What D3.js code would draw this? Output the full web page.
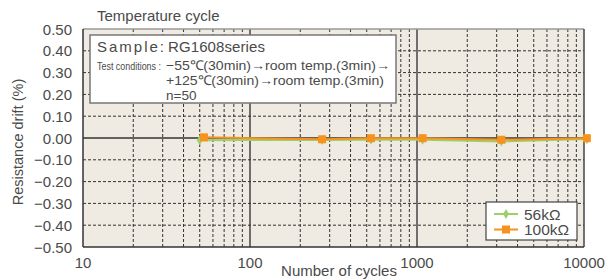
<!DOCTYPE html>
<html>
<head>
<meta charset="utf-8">
<script src="https://cdn.jsdelivr.net/npm/d3@7"></script>
<style>
  body { margin: 0; background: #fff; }
  text { font-family: "Liberation Sans", Arial, sans-serif; fill: #4a4a4a; }
</style>
</head>
<body>
<div id="chart"></div>
<script>
// data
var cycles56 = [50, 270, 530, 1080, 3200, 10400];
var drift56 = [-0.010, -0.009, -0.008, -0.008, -0.016, -0.005];
var cycles100 = [53, 270, 530, 1080, 3200, 10400];
var drift100 = [0.003, -0.006, -0.001, -0.001, -0.008, -0.001];
var yTicks = [0.5, 0.4, 0.3, 0.2, 0.1, 0, -0.1, -0.2, -0.3, -0.4, -0.5];
var xTicks = [10, 100, 1000, 10000];
var seriesNames = ["56kΩ", "100kΩ"];
var seriesColors = ["#9dd06a", "#f7921e"];

var margin = { left: 83, right: 24, top: 29, bottom: 33 };
var width = 608 - margin.left - margin.right,
    height = 280 - margin.top - margin.bottom;

var svg = d3.select("#chart")
  .append("svg")
    .attr("width", 608)
    .attr("height", 280);

var g = svg.append("g")
    .attr("transform", "translate(" + margin.left + "," + margin.top + ")");

var x = d3.scaleLog().domain([10, 10000]).range([0, width]);
var y = d3.scaleLinear().domain([-0.5, 0.5]).range([height, 0]);

// plot background
g.append("rect")
    .attr("width", width)
    .attr("height", height)
    .attr("fill", "#efebe2");

// vertical grid (minor dashed, decades solid)
var minors = [];
[10, 100, 1000].forEach(function(d) {
  for (var k = 2; k <= 9; k++) minors.push(d * k);
});
g.selectAll(".vgrid")
  .data(minors)
  .enter().append("line")
    .attr("x1", function(d) { return x(d); })
    .attr("x2", function(d) { return x(d); })
    .attr("y1", 0).attr("y2", height)
    .attr("stroke", "#333")
    .attr("stroke-width", 1)
    .attr("stroke-dasharray", "3,2");

g.selectAll(".vmajor")
  .data([100, 1000])
  .enter().append("line")
    .attr("x1", function(d) { return x(d); })
    .attr("x2", function(d) { return x(d); })
    .attr("y1", 0).attr("y2", height)
    .attr("stroke", "#444")
    .attr("stroke-width", 1.5);

// horizontal grid
g.selectAll(".hgrid")
  .data(yTicks.filter(function(d) { return d !== 0 && Math.abs(d) !== 0.5; }))
  .enter().append("line")
    .attr("x1", 0).attr("x2", width)
    .attr("y1", function(d) { return y(d); })
    .attr("y2", function(d) { return y(d); })
    .attr("stroke", "#333")
    .attr("stroke-width", 1)
    .attr("stroke-dasharray", "3,2");

g.append("line")
    .attr("x1", 0).attr("x2", width)
    .attr("y1", y(0)).attr("y2", y(0))
    .attr("stroke", "#333")
    .attr("stroke-width", 1.5);

// frame
g.append("line").attr("x1", 0).attr("x2", width).attr("y1", 0).attr("y2", 0)
    .attr("stroke", "#999").attr("stroke-width", 1.5);
g.append("line").attr("x1", width).attr("x2", width).attr("y1", 0).attr("y2", height)
    .attr("stroke", "#444").attr("stroke-width", 1.5);
g.append("line").attr("x1", 0).attr("x2", 0).attr("y1", 0).attr("y2", height)
    .attr("stroke", "#333").attr("stroke-width", 1.5);
g.append("line").attr("x1", 0).attr("x2", width).attr("y1", height).attr("y2", height)
    .attr("stroke", "#333").attr("stroke-width", 1.5);

// y tick labels
g.selectAll(".ylab")
  .data(yTicks)
  .enter().append("text")
    .attr("x", -11)
    .attr("y", function(d) { return y(d) + 5.5; })
    .attr("text-anchor", "end")
    .attr("font-size", "15px")
    .text(function(d) { return (d < 0 ? "\u2212" : "") + Math.abs(d).toFixed(2); });

// x tick labels
g.selectAll(".xlab")
  .data(xTicks)
  .enter().append("text")
    .attr("x", function(d) { return x(d); })
    .attr("y", height + 21)
    .attr("text-anchor", "middle")
    .attr("font-size", "15px")
    .text(function(d) { return d; });

// axis titles
svg.append("text")
    .attr("x", 339).attr("y", 276)
    .attr("text-anchor", "middle")
    .attr("font-size", "15px")
    .text("Number of cycles");

svg.append("text")
    .attr("transform", "translate(23,142) rotate(-90)")
    .attr("text-anchor", "middle")
    .attr("font-size", "14.5px")
    .text("Resistance drift  (%)");

svg.append("text")
    .attr("x", 97).attr("y", 21)
    .attr("font-size", "15px")
    .text("Temperature cycle");

// series
var series = [
  { name: seriesNames[0], color: seriesColors[0], xs: cycles56, ys: drift56 },
  { name: seriesNames[1], color: seriesColors[1], xs: cycles100, ys: drift100 }
];

var line = d3.line()
    .x(function(d) { return x(d[0]); })
    .y(function(d) { return y(d[1]); });

series.forEach(function(s, i) {
  var pts = d3.zip(s.xs, s.ys);
  g.append("path")
      .datum(pts)
      .attr("fill", "none")
      .attr("stroke", s.color)
      .attr("stroke-width", 2)
      .attr("d", line);
  if (i === 0) {
    g.selectAll(".m0")
      .data(pts)
      .enter().append("path")
        .attr("d", d3.symbol().type(d3.symbolDiamond).size(30))
        .attr("transform", function(d) { return "translate(" + x(d[0]) + "," + y(d[1]) + ")"; })
        .attr("fill", s.color);
  } else {
    g.selectAll(".m1")
      .data(pts)
      .enter().append("rect")
        .attr("x", function(d) { return x(d[0]) - 4; })
        .attr("y", function(d) { return y(d[1]) - 4; })
        .attr("width", 8).attr("height", 8)
        .attr("fill", s.color);
  }
});

// info box
svg.append("rect")
    .attr("x", 90).attr("y", 35)
    .attr("width", 306).attr("height", 68)
    .attr("fill", "#fff")
    .attr("stroke", "#777")
    .attr("stroke-width", 1.5);

svg.append("text")
    .attr("x", 97).attr("y", 52)
    .attr("font-size", "15px")
    .attr("textLength", 67)
    .attr("lengthAdjust", "spacing")
    .text("Sample:");

svg.append("text")
    .attr("x", 168).attr("y", 52)
    .attr("font-size", "15px")
    .attr("textLength", 97)
    .text("RG1608series");

svg.append("text")
    .attr("x", 97).attr("y", 69.5)
    .attr("font-size", "10.5px")
    .attr("textLength", 64)
    .attr("lengthAdjust", "spacingAndGlyphs")
    .text("Test conditions :");

var boxLines = ["\u221255\u2103(30min)\u2192room temp.(3min)\u2192",
                "+125\u2103(30min)\u2192room temp.(3min)",
                "n=50"];
var boxLens = [224, 218, null];
svg.selectAll(".boxl")
  .data(boxLines)
  .enter().append("text")
    .attr("x", 166)
    .attr("y", function(d, i) { return 69.5 + i * 15.2; })
    .attr("font-size", "13.5px")
    .attr("textLength", function(d, i) { return boxLens[i]; })
    .attr("lengthAdjust", "spacingAndGlyphs")
    .text(function(d) { return d; });

// legend
var lg = svg.append("g").attr("transform", "translate(486,202)");
lg.append("rect")
    .attr("width", 91).attr("height", 38)
    .attr("fill", "#fff")
    .attr("stroke", "#444")
    .attr("stroke-width", 1.2);

series.forEach(function(s, i) {
  var yy = 12 + i * 15.5;
  lg.append("line")
      .attr("x1", 8).attr("x2", 32)
      .attr("y1", yy).attr("y2", yy)
      .attr("stroke", s.color).attr("stroke-width", 2);
  if (i === 0) {
    lg.append("path")
        .attr("d", d3.symbol().type(d3.symbolDiamond).size(30))
        .attr("transform", "translate(20," + yy + ")")
        .attr("fill", s.color);
  } else {
    lg.append("rect")
        .attr("x", 16).attr("y", yy - 4)
        .attr("width", 8).attr("height", 8)
        .attr("fill", s.color);
  }
  lg.append("text")
      .attr("x", 38).attr("y", yy + 5.5)
      .attr("font-size", "15.5px")
      .text(s.name);
});
</script>
</body>
</html>
